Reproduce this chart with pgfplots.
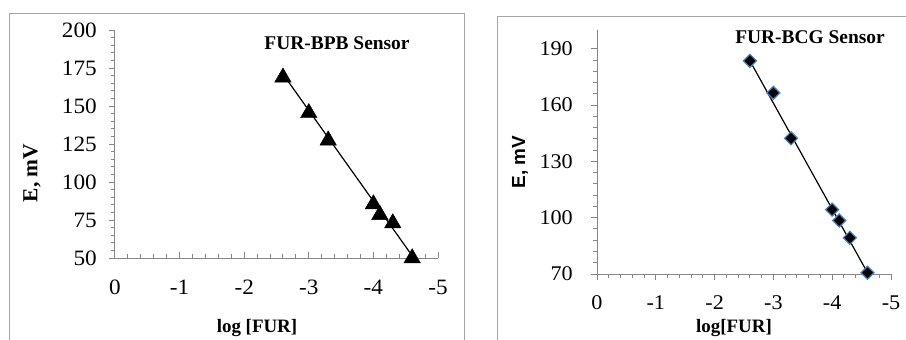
\documentclass[border=0pt]{standalone}
\usepackage{pgfplots}
\pgfplotsset{compat=1.18}
\usepackage{fontspec}
\setmainfont{Liberation Serif}
\newfontfamily\sansfont{Liberation Sans}
\newfontfamily\tickfont[FakeStretch=1.06]{Liberation Serif}
\definecolor{axgray}{RGB}{134,134,134}
\definecolor{framegray}{RGB}{165,165,165}
\definecolor{mblue}{RGB}{74,126,187}

\pgfplotstableread{
x y
-2.6 170.4
-3.0 147.0
-3.3 129.0
-4.0 87.0
-4.1 80.0
-4.3 74.5
-4.6 51.5
}\bpb

\pgfplotstableread{
x y
-2.6 183.6
-3.0 166.5
-3.3 142.3
-4.0 104.3
-4.12 98.5
-4.3 89.3
-4.6 70.7
}\bcg

\pgfplotsset{
  myaxis/.style={
    scale only axis, anchor=south west,
    xmin=-5, xmax=0, x dir=reverse,
    axis lines*=left,
    axis line style={axgray, line width=1bp},
    xtick={-5,-4,...,0},
    minor x tick num=4, minor y tick num=4,
    ytick align=outside,
    major tick length=6bp, minor tick length=4bp,
    tick style={axgray, line width=1bp},
    /pgf/number format/assume math mode=true,
    yticklabel style={anchor=east, inner sep=0pt},
    xticklabel style={anchor=center, inner sep=0pt},
    clip=false,
  }
}

\begin{document}
\begin{tikzpicture}[x=1bp,y=1bp]
\path[use as bounding box] (0,0) rectangle (906,-339);
\draw[framegray, line width=1bp] (9,-345) -- (9,-13) -- (464,-13) -- (464,-345);
\draw[framegray, line width=1bp] (497,-345) -- (497,-16) -- (912,-16);

\begin{axis}[myaxis,
  at={(115bp,-258bp)}, width=323bp, height=228bp,
  ymin=50, ymax=200, ytick={50,75,...,200},
  xtick align=inside,
  tick label style={font=\tickfont\fontsize{22}{26}\selectfont, text=black},
  xticklabel style={yshift=-29bp},
  yticklabel style={xshift=-12bp},
]
\addplot[black, line width=1.2bp] coordinates {(-2.6,171) (-4.6,51.5)};
\addplot[only marks, mark=triangle*, mark size=9.5bp, mark options={black, fill=black, yshift=-2.4bp}] table[x=x,y=y] {\bpb};
\end{axis}

\begin{axis}[myaxis,
  at={(597bp,-274bp)}, width=294bp, height=244bp,
  ymin=70, ymax=200, ytick={70,100,...,190},
  xtick align=outside,
  tick label style={font=\tickfont\fontsize{21}{25}\selectfont, text=black},
  xticklabel style={yshift=-23bp},
  yticklabel style={xshift=-18bp},
]
\addplot[black, line width=1.2bp] coordinates {(-2.6,183.6) (-4.6,70.7)};
\addplot[only marks, mark=square*, mark size=4.6bp, mark options={rotate=45, draw=mblue, fill=black, line width=1.2bp}] table[x=x,y=y] {\bcg};
\end{axis}

\node[font=\bfseries\fontsize{19.5}{22}\selectfont] at (337,-43) {FUR-BPB Sensor};
\node[font=\bfseries\fontsize{19.5}{22}\selectfont] at (810,-37) {FUR-BCG Sensor};
\node[font=\bfseries\fontsize{19}{22}\selectfont] at (257,-328) {log [FUR]};
\node[font=\bfseries\fontsize{19}{22}\selectfont] at (734,-328) {log[FUR]};
\node[font=\bfseries\fontsize{21.5}{24}\selectfont, rotate=90] at (32,-173) {E, mV};
\node[font=\sansfont\bfseries\fontsize{19}{22}\selectfont, rotate=90] at (520,-162) {E, mV};
\end{tikzpicture}
\end{document}
